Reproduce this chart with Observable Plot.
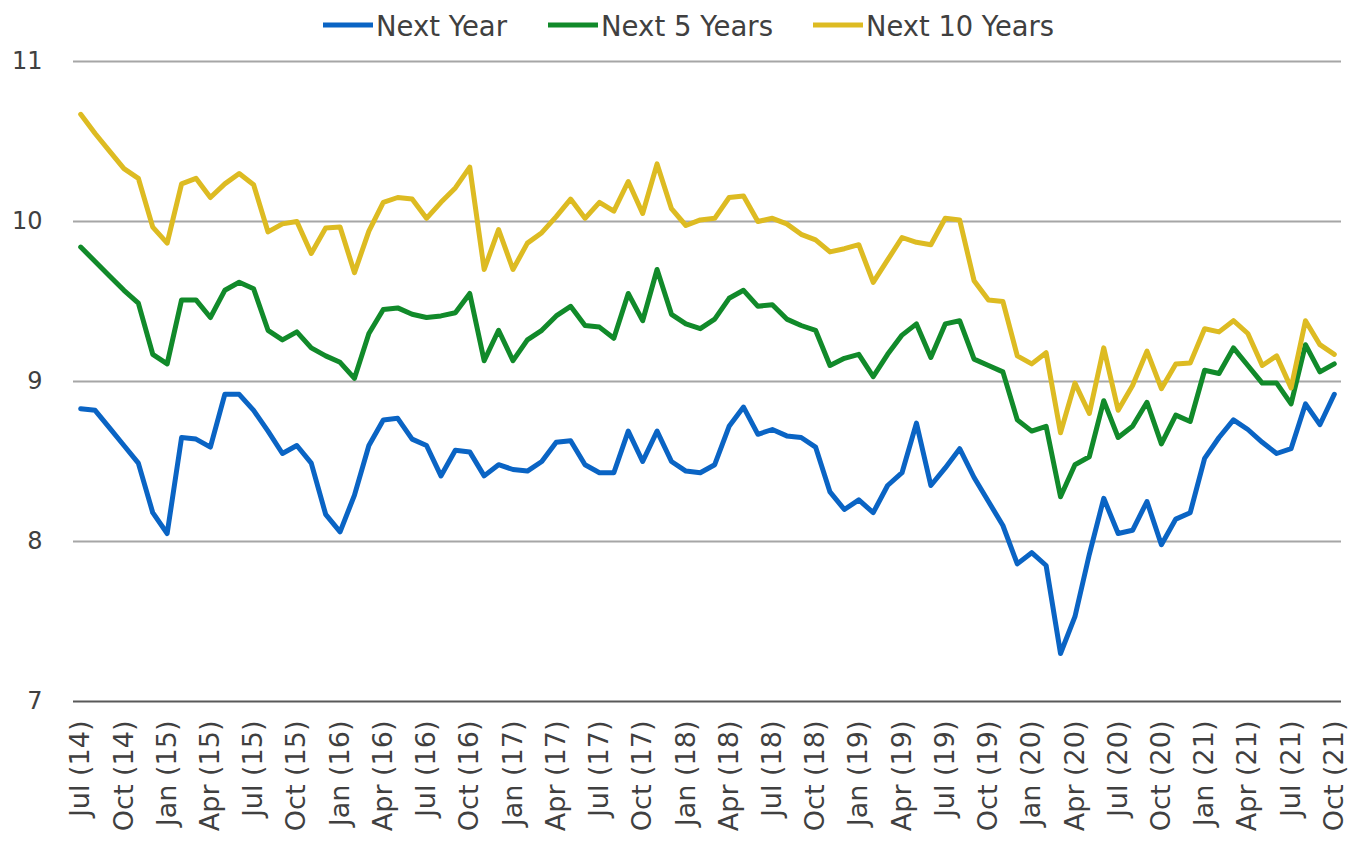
<!DOCTYPE html>
<html><head><meta charset="utf-8">
<script src="https://cdn.jsdelivr.net/npm/d3@7"></script>
<script src="https://cdn.jsdelivr.net/npm/@observablehq/plot@0.6"></script>
<style>
body{margin:0;background:#fff;font-family:"DejaVu Sans",Verdana,sans-serif;}
#legend svg,#chart svg{display:block;}
</style></head><body>
<div id="legend"></div>
<div id="chart"></div>
<script>
const months = [
"Jul (14)","Aug (14)","Sep (14)","Oct (14)","Nov (14)","Dec (14)",
"Jan (15)","Feb (15)","Mar (15)","Apr (15)","May (15)","Jun (15)","Jul (15)","Aug (15)","Sep (15)","Oct (15)","Nov (15)","Dec (15)",
"Jan (16)","Feb (16)","Mar (16)","Apr (16)","May (16)","Jun (16)","Jul (16)","Aug (16)","Sep (16)","Oct (16)","Nov (16)","Dec (16)",
"Jan (17)","Feb (17)","Mar (17)","Apr (17)","May (17)","Jun (17)","Jul (17)","Aug (17)","Sep (17)","Oct (17)","Nov (17)","Dec (17)",
"Jan (18)","Feb (18)","Mar (18)","Apr (18)","May (18)","Jun (18)","Jul (18)","Aug (18)","Sep (18)","Oct (18)","Nov (18)","Dec (18)",
"Jan (19)","Feb (19)","Mar (19)","Apr (19)","May (19)","Jun (19)","Jul (19)","Aug (19)","Sep (19)","Oct (19)","Nov (19)","Dec (19)",
"Jan (20)","Feb (20)","Mar (20)","Apr (20)","May (20)","Jun (20)","Jul (20)","Aug (20)","Sep (20)","Oct (20)","Nov (20)","Dec (20)",
"Jan (21)","Feb (21)","Mar (21)","Apr (21)","May (21)","Jun (21)","Jul (21)","Aug (21)","Sep (21)","Oct (21)"
];
const nextYear = [
8.83,8.82,8.71,8.60,8.49,8.18,
8.05,8.65,8.64,8.59,8.92,8.92,8.82,8.69,8.55,8.60,8.49,8.17,
8.06,8.29,8.60,8.76,8.77,8.64,8.60,8.41,8.57,8.56,8.41,8.48,
8.45,8.44,8.50,8.62,8.63,8.48,8.43,8.43,8.69,8.50,8.69,8.50,
8.44,8.43,8.48,8.72,8.84,8.67,8.70,8.66,8.65,8.59,8.31,8.20,
8.26,8.18,8.35,8.43,8.74,8.35,8.46,8.58,8.40,8.25,8.10,7.86,
7.93,7.85,7.30,7.53,7.92,8.27,8.05,8.07,8.25,7.98,8.14,8.18,
8.52,8.65,8.76,8.70,8.62,8.55,8.58,8.86,8.73,8.92
];
const next5Years = [
9.84,9.75,9.66,9.57,9.49,9.17,
9.11,9.51,9.51,9.40,9.57,9.62,9.58,9.32,9.26,9.31,9.21,9.16,
9.12,9.02,9.30,9.45,9.46,9.42,9.40,9.41,9.43,9.55,9.13,9.32,
9.13,9.26,9.32,9.41,9.47,9.35,9.34,9.27,9.55,9.38,9.70,9.42,
9.36,9.33,9.39,9.52,9.57,9.47,9.48,9.39,9.35,9.32,9.10,9.145,
9.17,9.03,9.17,9.29,9.36,9.15,9.36,9.38,9.14,9.10,9.06,8.76,
8.69,8.72,8.28,8.48,8.53,8.88,8.65,8.72,8.87,8.61,8.79,8.75,
9.07,9.05,9.21,9.10,8.99,8.99,8.86,9.23,9.06,9.11
];
const next10Years = [
10.67,10.55,10.44,10.33,10.27,9.965,
9.865,10.235,10.27,10.15,10.235,10.30,10.23,9.935,9.985,10.00,9.80,9.96,
9.965,9.68,9.94,10.12,10.15,10.14,10.02,10.12,10.21,10.34,9.70,9.95,
9.70,9.865,9.93,10.03,10.14,10.02,10.12,10.065,10.25,10.05,10.36,10.08,
9.975,10.01,10.02,10.15,10.16,10.00,10.02,9.985,9.92,9.885,9.81,9.83,
9.855,9.62,9.76,9.90,9.87,9.855,10.02,10.01,9.63,9.51,9.50,9.16,
9.11,9.18,8.68,8.99,8.80,9.21,8.82,8.975,9.19,8.955,9.11,9.115,
9.33,9.31,9.38,9.30,9.10,9.16,8.96,9.38,9.23,9.17
];
const seriesNames = ["Next Year","Next 5 Years","Next 10 Years"];
const seriesColors = ["#0A64C4","#118A2A","#DDBB22"];
const yTicks = [7,8,9,10,11];
const xTickLabels = months.filter((d,i)=>i%3===0);

const rows = [];
[nextYear,next5Years,next10Years].forEach((arr,s)=>arr.forEach((v,i)=>rows.push({month:months[i],value:v,series:seriesNames[s]})));

// Legend
const legendItems = [
  {name:seriesNames[0], color:seriesColors[0], x:323, len:131},
  {name:seriesNames[1], color:seriesColors[1], x:548, len:172},
  {name:seriesNames[2], color:seriesColors[2], x:813, len:188}
];
const lsvg = d3.select("#legend").append("svg").attr("width",1354).attr("height",48);
legendItems.forEach(it=>{
  lsvg.append("line").attr("x1",it.x).attr("x2",it.x+50).attr("y1",25).attr("y2",25)
    .attr("stroke",it.color).attr("stroke-width",5);
  lsvg.append("text").attr("x",it.x+53).attr("y",36).text(it.name)
    .attr("font-family","DejaVu Sans").attr("font-size",29).attr("fill","#404040")
    .attr("textLength",it.len).attr("lengthAdjust","spacingAndGlyphs");
});

const chart = Plot.plot({
  width:1354, height:799, marginTop:13, marginBottom:146, marginLeft:73, marginRight:13,
  style:{fontFamily:"DejaVu Sans", fontSize:"24px", color:"#404040", background:"#fff"},
  x:{type:"point", domain:months, padding:0.5},
  y:{domain:[7,11]},
  color:{domain:seriesNames, range:seriesColors},
  marks:[
    Plot.ruleY(yTicks.filter(d=>d>7),{stroke:"#A6A6A6",strokeWidth:2,strokeOpacity:1}),
    Plot.ruleY([7],{stroke:"#595959",strokeWidth:2,strokeOpacity:1}),
    Plot.axisY(yTicks,{tickSize:0,tickPadding:31,label:null,fontSize:24,tickFormat:d3.format("d")}),
    Plot.axisX(xTickLabels,{tickSize:0,tickPadding:19,tickRotate:-90,label:null,fontSize:27}),
    Plot.line(rows,{x:"month",y:"value",z:"series",stroke:"series",strokeWidth:5,strokeLinejoin:"round",strokeLinecap:"round"})
  ]
});
document.getElementById("chart").appendChild(chart);
</script>
</body></html>
